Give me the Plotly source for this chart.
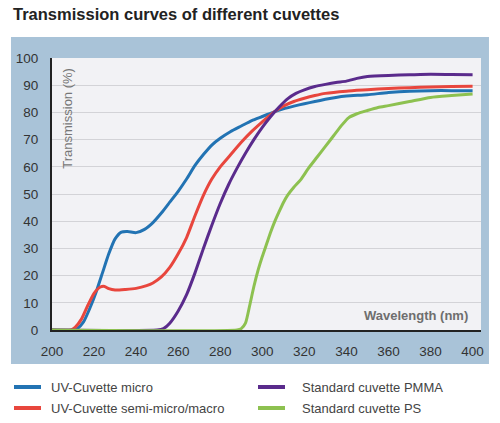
import plotly.graph_objects as go

# Wavelength (nm) and transmission (%)
uv_micro_nm = [200, 210, 212, 215, 218, 221, 224, 227, 230, 233, 236, 240, 244, 248, 252, 256,
               260, 264, 268, 272, 276, 280, 285, 290, 295, 300, 305, 310, 315, 320, 325, 330,
               335, 340, 350, 360, 370, 380, 390, 400]
uv_micro_t = [0, 0, 0.5, 3, 8, 14, 21, 28, 33.5, 36, 36.2, 35.8, 37, 39.5, 43, 47,
              51, 55.5, 60.5, 64.5, 68, 70.5, 73, 75, 77, 78.5, 80, 81.3, 82.3, 83.2, 84, 84.8,
              85.5, 86, 86.5, 87.3, 87.8, 88, 88, 88]

uv_semi_nm = [200, 209, 211, 214, 217, 220, 223, 225, 227, 230, 235, 240, 245, 248, 252, 256,
              260, 264, 268, 272, 276, 280, 285, 290, 295, 300, 305, 310, 315, 320, 325, 330,
              340, 350, 360, 370, 380, 390, 400]
uv_semi_t = [0, 0, 1, 4, 9, 13.5, 15.8, 16, 15.2, 14.7, 14.9, 15.3, 16.3, 17.3, 19.5, 23,
             28, 34, 42, 49.5, 55.5, 60, 64.5, 69, 73, 76.5, 79.8, 82.3, 84, 85.2, 86.2, 87,
             87.8, 88.3, 88.8, 89.1, 89.3, 89.5, 89.6]

pmma_nm = [200, 250, 253, 256, 260, 264, 268, 272, 276, 280, 284, 288, 292, 296, 300, 304,
           308, 312, 316, 320, 325, 330, 335, 340, 345, 350, 360, 370, 380, 390, 400]
pmma_t = [0, 0, 0.5, 2.5, 7, 13, 21, 30, 38.5, 46.5, 53.5, 59.5, 65, 70, 74.5, 78.5,
          82, 85, 87, 88.3, 89.5, 90.3, 91, 91.5, 92.5, 93.2, 93.6, 93.8, 94, 93.9, 93.8]

ps_nm = [200, 288, 290, 292, 294, 296, 298, 300, 302, 304, 306, 308, 310, 312, 315, 318,
         322, 326, 330, 334, 338, 341, 345, 350, 355, 360, 370, 380, 390, 400]
ps_t = [0, 0, 0.5, 2.5, 9, 16, 22, 27, 31.5, 36, 40, 43.5, 46.8, 49.5, 52.5, 55,
        59.5, 63.5, 67.5, 71.5, 75.5, 78, 79.5, 80.7, 81.8, 82.5, 84, 85.5, 86.2, 86.8]

x_ticks = [200, 220, 240, 260, 280, 300, 320, 340, 360, 380, 400]
y_ticks = [0, 10, 20, 30, 40, 50, 60, 70, 80, 90, 100]

font = "Liberation Sans, Arial, sans-serif"

fig = go.Figure()
series = [
    ("UV-Cuvette micro", uv_micro_nm, uv_micro_t, "#2273b3"),
    ("UV-Cuvette semi-micro/macro", uv_semi_nm, uv_semi_t, "#e8463d"),
    ("Standard cuvette PMMA", pmma_nm, pmma_t, "#5a2b8c"),
    ("Standard cuvette PS", ps_nm, ps_t, "#8dc150"),
]
for name, x, y, color in series:
    fig.add_trace(go.Scatter(x=x, y=y, mode="lines", name=name, showlegend=False,
                             line=dict(color=color, width=3, shape="spline", smoothing=0.6)))

# blue-grey panel, then the light plot area on top of it (gridlines stay above both)
fig.add_shape(type="rect", xref="paper", yref="paper", x0=-0.0956, x1=1.0186,
              y0=-0.125, y1=1.077, fillcolor="#a9c3d8", line_width=0, layer="below")
fig.add_shape(type="rect", xref="paper", yref="paper", x0=0, x1=1, y0=0, y1=1,
              fillcolor="#f2f2f5", line_width=0, layer="below")

# legend below the panel: two columns, two rows
legend_cols = [(-0.0886, -0.0256, -0.007), (0.4802, 0.5431, 0.5781)]
legend_rows = [-0.2096, -0.2868]
legend_slots = [(0, 0), (0, 1), (1, 0), (1, 1)]
for (name, _, _, color), (c, r) in zip(series, legend_slots):
    x0, x1, xt = legend_cols[c]
    yy = legend_rows[r]
    fig.add_shape(type="line", xref="paper", yref="paper", x0=x0, x1=x1, y0=yy, y1=yy,
                  line=dict(color=color, width=4))
    fig.add_annotation(text=name, xref="paper", yref="paper", x=xt, y=yy, xanchor="left",
                       yanchor="middle", showarrow=False,
                       font=dict(size=13, color="#444444", family=font))

fig.add_annotation(text="<b>Transmission curves of different cuvettes</b>", xref="paper",
                   yref="paper", x=-0.095, y=1.162, xanchor="left", yanchor="middle",
                   showarrow=False, font=dict(size=16.5, color="#222222", family=font))
fig.add_annotation(text="Transmission (%)", xref="paper", yref="paper", x=0.037, y=0.78,
                   xanchor="center", yanchor="middle", textangle=-90, showarrow=False,
                   font=dict(size=13, color="#777777", family=font))
fig.add_annotation(text="<b>Wavelength (nm)</b>", xref="paper", yref="paper", x=0.974, y=0.055,
                   xanchor="right", yanchor="middle", showarrow=False,
                   font=dict(size=13, color="#6e6e6e", family=font))

fig.update_layout(
    width=500, height=423,
    margin=dict(l=52, r=19, t=58, b=93),
    paper_bgcolor="white", plot_bgcolor="rgba(0,0,0,0)",
    font=dict(family=font, size=13, color="#333333"),
    xaxis=dict(range=[200, 404], tickvals=x_ticks, showgrid=False, zeroline=False,
               showline=True, linecolor="#222222", linewidth=2, ticks="outside", ticklen=8,
               tickcolor="rgba(0,0,0,0)", tickfont=dict(size=13.5, color="#333333")),
    yaxis=dict(range=[0, 100], tickvals=y_ticks, showgrid=True, gridcolor="#d3d3d7", gridwidth=1,
               zeroline=False, showline=True, linecolor="#222222", linewidth=2, ticks="outside",
               ticklen=9, tickcolor="rgba(0,0,0,0)", tickfont=dict(size=13.5, color="#333333")),
)

# drop the default page margin so the figure sits at the window's top-left corner
fig.write_html("out.html", config={"displayModeBar": False},
               post_script="document.body.style.margin='0px';")
